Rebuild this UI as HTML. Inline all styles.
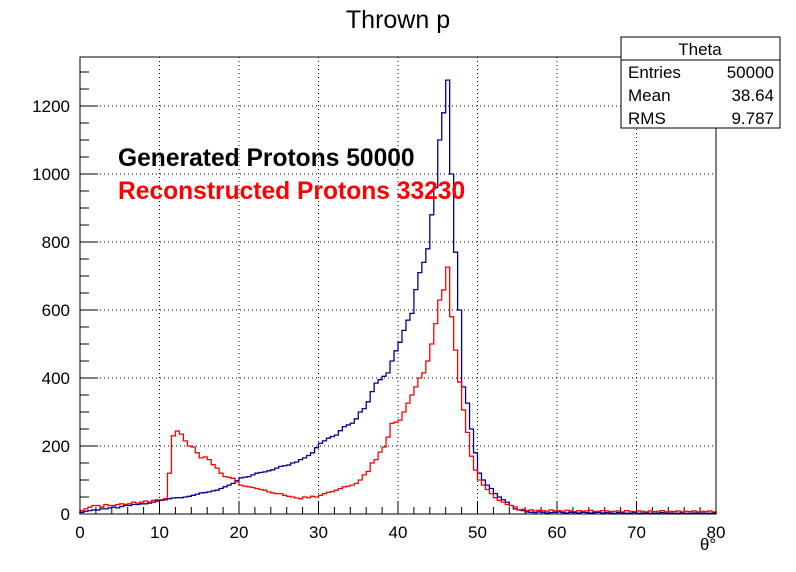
<!DOCTYPE html>
<html><head><meta charset="utf-8"><style>
body{margin:0;background:#fff}
svg{display:block;font-family:"Liberation Sans",sans-serif}
</style></head><body>
<svg id="c" width="796" height="572">
<rect width="796" height="572" fill="#fff"/>
<text x="398" y="28" font-size="25" text-anchor="middle">Thrown p</text>
<g id="grid"></g>
<g id="axes"></g>
<g id="series"></g>
<rect x="80" y="57" width="636" height="457" fill="none" stroke="#000" stroke-width="1"/>
<text x="118" y="166" font-size="24.6" font-weight="bold" fill="#000">Generated Protons 50000</text>
<text x="118" y="199" font-size="24.6" font-weight="bold" fill="#ff0000">Reconstructed Protons 33230</text>
<g>
<rect x="621" y="37" width="159" height="91" fill="#fff" stroke="#000"/>
<line x1="621" y1="60" x2="780" y2="60" stroke="#000"/>
<text x="700" y="55" font-size="17" text-anchor="middle">Theta</text>
<text x="628" y="78" font-size="17">Entries</text><text x="774" y="78" font-size="17" text-anchor="end">50000</text>
<text x="628" y="101" font-size="17">Mean</text><text x="774" y="101" font-size="17" text-anchor="end">38.64</text>
<text x="628" y="124" font-size="17">RMS</text><text x="774" y="124" font-size="17" text-anchor="end">9.787</text>
</g>
<text x="708" y="550" font-size="17" text-anchor="middle">θ°</text>
</svg>
<script>
const xTicks=[0,10,20,30,40,50,60,70,80];
const yTicks=[0,200,400,600,800,1000,1200];
const binWidth=0.5;
const generated=[5,8,10,12,12,15,15,18,20,18,22,25,25,28,28,30,30,32,35,38,40,42,45,47,48,48,50,52,55,58,62,63,65,68,70,75,80,85,90,98,106,108,110,115,120,122,124,127,130,135,140,142,144,150,153,160,165,172,180,195,208,215,223,228,232,245,257,262,267,280,300,310,330,360,385,395,405,415,450,480,505,540,570,590,660,710,740,780,880,960,1100,1180,1276,1000,770,600,374,326,250,180,120,100,85,75,60,50,42,35,25,15,12,10,6,5,4,6,5,3,4,5,6,4,3,5,4,3,5,4,3,4,5,3,4,3,2,4,3,2,3,4,2,3,3,2,2,3,4,2,3,2,2,3,2,2,3,2,3,2,2,3];
const reconstructed=[10,15,20,25,25,20,28,25,25,28,30,28,30,35,32,35,38,35,40,42,42,45,120,230,244,235,215,200,197,180,165,168,160,145,135,120,110,108,105,95,85,82,80,78,75,72,70,65,62,60,60,55,52,50,47,45,50,48,52,50,55,60,64,66,70,75,80,82,85,90,100,115,125,150,160,182,197,226,267,270,276,300,326,350,374,400,415,450,500,560,629,659,726,580,482,388,306,240,170,129,100,85,72,60,48,40,35,28,25,21,12,14,10,12,9,11,10,8,12,9,10,8,11,9,7,10,8,9,11,7,8,10,9,7,8,9,6,10,8,7,9,8,6,9,7,8,10,6,8,7,9,6,8,7,9,6,8,7,9,6];
const NS="http://www.w3.org/2000/svg";
const X0=80,X1=716,Y0=514,Y1=57;
const sx=v=>X0+(v-0)*(X1-X0)/80;
const sy=v=>Y0-v*0.34;
function mk(t,a,p){const e=document.createElementNS(NS,t);for(const k in a)e.setAttribute(k,a[k]);p.appendChild(e);return e;}
const grid=document.getElementById('grid'),axes=document.getElementById('axes'),series=document.getElementById('series');
xTicks.forEach(v=>{
 if(v>0&&v<80){const g=mk('line',{x1:sx(v),x2:sx(v),y1:Y0,y2:Y1,stroke:'#000','stroke-dasharray':'1,3'},grid);
 
 }
 const t=mk('text',{x:sx(v),y:538,'font-size':17,'text-anchor':'middle'},axes);t.textContent=v;
 
 
});
for(let v=0;v<=80;v+=2){mk('line',{x1:sx(v),x2:sx(v),y1:Y0,y2:Y0-(v%10==0?13:7),stroke:'#000'},axes);}
yTicks.forEach(v=>{
 if(v>0){const g=mk('line',{x1:X0,x2:X1,y1:sy(v),y2:sy(v),stroke:'#000','stroke-dasharray':'1,3'},grid);
 
 }
 const t=mk('text',{x:70,y:sy(v)+6,'font-size':17,'text-anchor':'end'},axes);t.textContent=v;
 
 
});
for(let v=0;v<=1300;v+=50){mk('line',{x1:X0,x2:X0+(v%200==0?18:9),y1:sy(v),y2:sy(v),stroke:'#000'},axes);}
function hist(data,color,name){
 let d='M'+sx(0)+','+sy(0);
 data.forEach((v,i)=>{d+=' L'+sx(i*binWidth)+','+sy(v)+' L'+sx((i+1)*binWidth)+','+sy(v);});
 d+=' L'+sx(data.length*binWidth)+','+sy(0);
 const p=mk('path',{d:d,fill:'none',stroke:color,'stroke-width':1.3},series);
 
 
}
hist(generated,'#000099','generated-histogram');
hist(reconstructed,'#ff0000','reconstructed-histogram');
</script>
</body></html>
